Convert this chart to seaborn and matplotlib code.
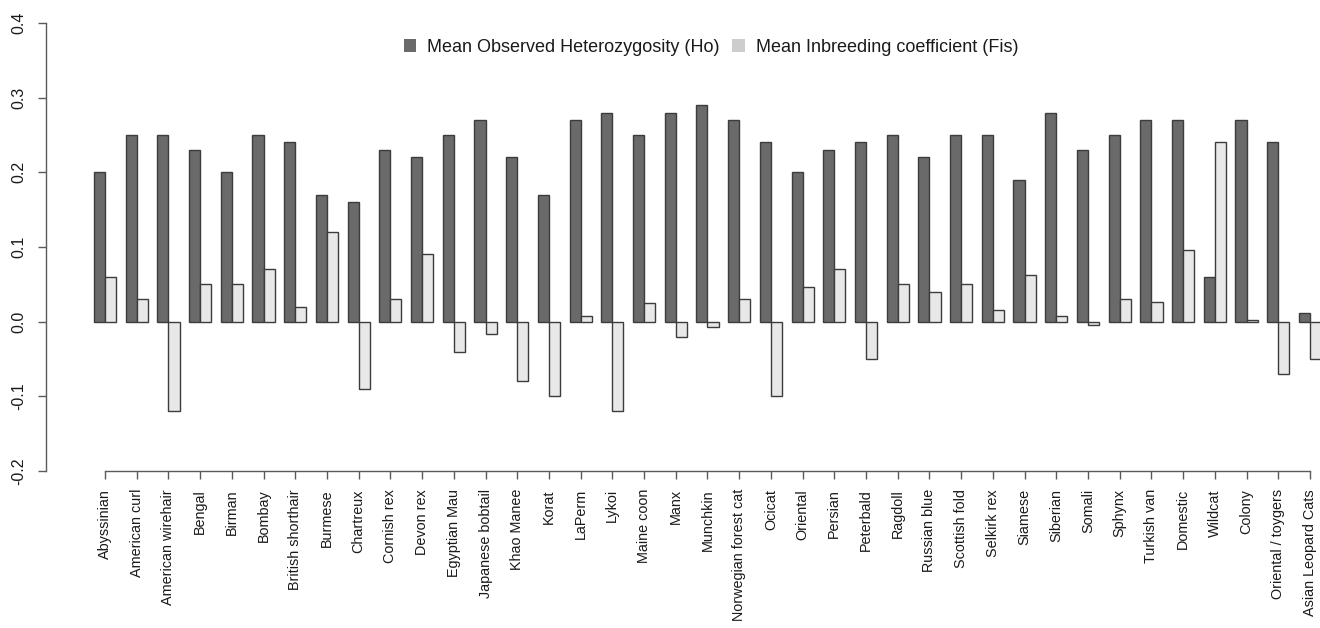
import matplotlib
matplotlib.use("Agg")
import matplotlib.pyplot as plt
import matplotlib.patches as mpatches
import seaborn as sns
import pandas as pd

breeds = [
    "Abyssinian", "American curl", "American wirehair", "Bengal", "Birman",
    "Bombay", "British shorthair", "Burmese", "Chartreux", "Cornish rex",
    "Devon rex", "Egyptian Mau", "Japanese bobtail", "Khao Manee", "Korat",
    "LaPerm", "Lykoi", "Maine coon", "Manx", "Munchkin",
    "Norwegian forest cat", "Ocicat", "Oriental", "Persian", "Peterbald",
    "Ragdoll", "Russian blue", "Scottish fold", "Selkirk rex", "Siamese",
    "Siberian", "Somali", "Sphynx", "Turkish van", "Domestic",
    "Wildcat", "Colony", "Oriental / toygers", "Asian Leopard Cats",
]

ho = [
    0.20, 0.25, 0.25, 0.23, 0.20,
    0.25, 0.24, 0.17, 0.16, 0.23,
    0.22, 0.25, 0.27, 0.22, 0.17,
    0.27, 0.28, 0.25, 0.28, 0.29,
    0.27, 0.24, 0.20, 0.23, 0.24,
    0.25, 0.22, 0.25, 0.25, 0.19,
    0.28, 0.23, 0.25, 0.27, 0.27,
    0.06, 0.27, 0.24, 0.012,
]

fis = [
    0.06, 0.03, -0.12, 0.05, 0.05,
    0.07, 0.02, 0.12, -0.09, 0.03,
    0.09, -0.04, -0.016, -0.08, -0.10,
    0.008, -0.12, 0.025, -0.02, -0.007,
    0.03, -0.10, 0.046, 0.07, -0.05,
    0.05, 0.04, 0.05, 0.016, 0.063,
    0.007, -0.005, 0.03, 0.026, 0.096,
    0.24, 0.002, -0.07, -0.05,
]

series_names = ["Mean Observed Heterozygosity (Ho)", "Mean Inbreeding coefficient (Fis)"]
y_ticks = [-0.2, -0.1, 0.0, 0.1, 0.2, 0.3, 0.4]

df = pd.DataFrame({
    "breed": breeds * 2,
    "value": ho + fis,
    "measure": [series_names[0]] * len(breeds) + [series_names[1]] * len(breeds),
})

sns.set_style("white")
plt.rcParams["font.family"] = ["Liberation Sans", "DejaVu Sans"]

dark = "#6a6a6a"
light = "#e8e8e9"
edge = "#3c3c3c"
axis_col = "#5a5a5a"
text_col = "#1a1a1a"

fig = plt.figure(figsize=(13.2, 6.28), dpi=100)
ax = fig.add_axes([46 / 1320, 1 - 471 / 628, 1 - 46 / 1320, (471 - 23) / 628])

sns.barplot(
    data=df, x="breed", y="value", hue="measure", order=breeds,
    hue_order=series_names, palette=[dark, light], saturation=1,
    width=0.7, edgecolor=edge, linewidth=1.0, ax=ax, legend=False,
)

n = len(breeds)
ax.set_xlim((46 - 105) / 31.71, (1320 - 105) / 31.71)
ax.set_ylim(-0.2, 0.4)
ax.set_yticks(y_ticks)
ax.set_yticklabels([f"{v:.1f}" for v in y_ticks], rotation=90, va="center")
ax.set_xticks(range(n))
ax.set_xticklabels(breeds, rotation=90, fontsize=10.4, color=text_col)
ax.set_xlabel("")
ax.set_ylabel("")

for s in ["top", "right"]:
    ax.spines[s].set_visible(False)
ax.spines["left"].set_color(axis_col)
ax.spines["bottom"].set_color(axis_col)
ax.spines["left"].set_linewidth(1.0)
ax.spines["bottom"].set_linewidth(1.0)
ax.spines["bottom"].set_bounds(0, n - 1)
ax.tick_params(axis="x", direction="out", length=6, width=1.0, color=axis_col, pad=7, bottom=True)
ax.tick_params(axis="y", direction="out", length=6, width=1.0, color=axis_col, pad=8,
               labelsize=11.5, labelcolor=text_col, left=True)

handles = [
    mpatches.Patch(facecolor=dark, edgecolor="none", label=series_names[0]),
    mpatches.Patch(facecolor="#cdcdcd", edgecolor="none", label=series_names[1]),
]
fig.legend(
    handles=handles, loc="center", bbox_to_anchor=(711 / 1320, 1 - 47 / 628),
    ncol=2, frameon=False, fontsize=13, handlelength=0.7, handleheight=0.7,
    handletextpad=0.6, columnspacing=0.7, labelcolor=text_col,
)

fig.savefig("out.png", dpi=100)
